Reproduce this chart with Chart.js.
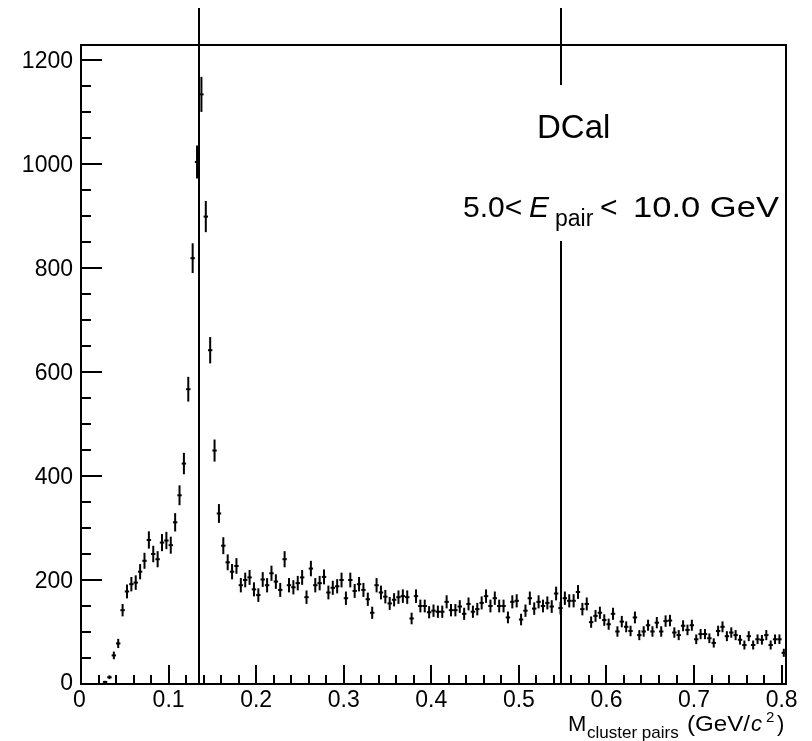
<!DOCTYPE html>
<html><head><meta charset="utf-8">
<script src="https://cdn.jsdelivr.net/npm/chart.js@4/dist/chart.umd.min.js"></script>
<style>html,body{margin:0;padding:0;background:#fff;}canvas{display:block;}</style>
</head><body>
<canvas id="c" width="812" height="741"></canvas>
<script>
// Bin centres (GeV/c^2) of the non-empty bins, bin width 0.005
const massBinCenters = [
  0.0275,0.0325,0.0375,0.0425,0.0475,0.0525,0.0575,0.0625,0.0675,0.0725,
  0.0775,0.0825,0.0875,0.0925,0.0975,0.1025,0.1075,0.1125,0.1175,0.1225,
  0.1275,0.1325,0.1375,0.1425,0.1475,0.1525,0.1575,0.1625,0.1675,0.1725,
  0.1775,0.1825,0.1875,0.1925,0.1975,0.2025,0.2075,0.2125,0.2175,0.2225,
  0.2275,0.2325,0.2375,0.2425,0.2475,0.2525,0.2575,0.2625,0.2675,0.2725,
  0.2775,0.2825,0.2875,0.2925,0.2975,0.3025,0.3075,0.3125,0.3175,0.3225,
  0.3275,0.3325,0.3375,0.3425,0.3475,0.3525,0.3575,0.3625,0.3675,0.3725,
  0.3775,0.3825,0.3875,0.3925,0.3975,0.4025,0.4075,0.4125,0.4175,0.4225,
  0.4275,0.4325,0.4375,0.4425,0.4475,0.4525,0.4575,0.4625,0.4675,0.4725,
  0.4775,0.4825,0.4875,0.4925,0.4975,0.5025,0.5075,0.5125,0.5175,0.5225,
  0.5275,0.5325,0.5375,0.5425,0.5475,0.5525,0.5575,0.5625,0.5675,0.5725,
  0.5775,0.5825,0.5875,0.5925,0.5975,0.6025,0.6075,0.6125,0.6175,0.6225,
  0.6275,0.6325,0.6375,0.6425,0.6475,0.6525,0.6575,0.6625,0.6675,0.6725,
  0.6775,0.6825,0.6875,0.6925,0.6975,0.7025,0.7075,0.7125,0.7175,0.7225,
  0.7275,0.7325,0.7375,0.7425,0.7475,0.7525,0.7575,0.7625,0.7675,0.7725,
  0.7775,0.7825,0.7875,0.7925,0.7975,0.8025
];
// Entries per bin
const pairCounts = [
  4,13,55,78,142,178,192,195,216,237,
  277,250,240,272,276,267,311,363,424,567,
  819,1004,1134,899,642,449,328,266,234,216,
  227,190,200,205,182,171,201,190,213,197,
  181,240,190,186,194,205,167,222,190,194,
  206,176,185,188,200,165,200,179,192,181,
  163,137,190,176,168,155,162,167,169,167,
  126,169,150,150,138,141,139,139,158,142,
  142,149,135,154,139,144,156,169,150,165,
  150,150,128,158,160,124,141,165,145,158,
  150,156,149,174,146,165,160,160,177,144,
  154,119,131,137,123,115,135,101,120,110,
  102,128,94,101,113,101,118,101,121,122,
  99,94,112,104,113,86,96,96,88,79,
  102,110,92,99,94,85,75,92,75,86,
  85,94,75,86,86,60
];
const yTickValues = [0,200,400,600,800,1000,1200];
const yTickLabels = ["0","200","400","600","800","1000","1200"];
const xTickValues = [0,0.1,0.2,0.3,0.4,0.5,0.6,0.7,0.8];
const xTickLabels = ["0","0.1","0.2","0.3","0.4","0.5","0.6","0.7","0.8"];
const massLines = [0.135, 0.548];
const detectorLabel = "DCal";

const FONT = "'Liberation Sans', Arial, Helvetica, sans-serif";

function txt(ctx, s, x, y, size, italic, align) {
  ctx.font = (italic ? 'italic ' : '') + size + 'px ' + FONT;
  ctx.textAlign = align || 'left';
  ctx.textBaseline = 'alphabetic';
  ctx.fillText(s, x, y);
  return ctx.measureText(s).width;
}
function txtW(ctx, s, x, y, size, width) {
  ctx.font = size + 'px ' + FONT;
  ctx.textAlign = 'left';
  ctx.textBaseline = 'alphabetic';
  const w = ctx.measureText(s).width;
  ctx.save();
  ctx.translate(x, y);
  ctx.scale(width / w, 1);
  ctx.fillText(s, 0, 0);
  ctx.restore();
}

const rootStyle = {
  id: 'rootStyle',
  afterDatasetsDraw(chart) {
    const {ctx, scales: {x, y}, chartArea: a} = chart;
    ctx.save();
    ctx.beginPath();
    ctx.rect(a.left - 3, a.top, a.right - a.left + 6, a.bottom - a.top);
    ctx.clip();
    ctx.strokeStyle = '#000';
    ctx.lineWidth = 2;
    massBinCenters.forEach((m, i) => {
      const n = pairCounts[i];
      const e = Math.sqrt(n);
      const px = x.getPixelForValue(m);
      ctx.beginPath();
      ctx.moveTo(px, y.getPixelForValue(Math.max(0, n - e)));
      ctx.lineTo(px, y.getPixelForValue(n + e));
      ctx.stroke();
    });
    ctx.restore();
  },
  afterDraw(chart) {
    const {ctx, scales: {x, y}, chartArea: a} = chart;
    ctx.save();
    ctx.strokeStyle = '#000';
    ctx.fillStyle = '#000';
    ctx.lineWidth = 2;
    // mass marker lines
    massLines.forEach(m => {
      const px = Math.round(x.getPixelForValue(m));
      ctx.beginPath();
      ctx.moveTo(px, 8);
      ctx.lineTo(px, y.getPixelForValue(0));
      ctx.stroke();
    });
    // white text box
    ctx.fillStyle = '#fff';
    ctx.fillRect(448, 85, a.right - 449, 156);
    ctx.fillStyle = '#000';
    txt(ctx, detectorLabel, 537, 138, 33);
    txt(ctx, '5.0<', 463, 217, 30);
    txt(ctx, 'E', 529, 217, 30, true);
    txt(ctx, 'pair', 555, 226, 23);
    txt(ctx, '<', 600, 217, 30);
    txtW(ctx, '10.0 GeV', 633, 217, 30, 146);

    // frame
    ctx.lineWidth = 2;
    ctx.strokeRect(a.left, a.top, a.right - a.left, a.bottom - a.top);
    // ticks
    ctx.beginPath();
    for (let v = 0; v <= y.max; v += 50) {
      const py = Math.round(y.getPixelForValue(v));
      const major = v % 200 === 0;
      ctx.moveTo(a.left, py);
      ctx.lineTo(a.left + (major ? 21 : 10), py);
    }
    for (let k = 0; k <= 40; k++) {
      const v = k * 0.02;
      if (v > x.max) break;
      const px = Math.round(x.getPixelForValue(v));
      const major = k % 5 === 0;
      ctx.moveTo(px, a.bottom);
      ctx.lineTo(px, a.bottom - (major ? 19 : 9));
    }
    ctx.stroke();
    // labels
    yTickValues.forEach((v, i) => {
      const py = y.getPixelForValue(v);
      txt(ctx, yTickLabels[i], 73, py + 8 - (v === 0 ? 2 : 0), 23, false, 'right');
    });
    xTickValues.forEach((v, i) => {
      const px = x.getPixelForValue(v);
      txt(ctx, xTickLabels[i], px - (v === 0 ? 1.5 : 0), 707, 23, false, 'center');
    });
    // x title
    txt(ctx, 'M', 568, 731, 22);
    txt(ctx, 'cluster pairs', 587, 738, 17);
    txtW(ctx, '(GeV/', 687, 731, 22, 63);
    txt(ctx, 'c', 751, 731, 22, true);
    txt(ctx, '2', 766, 722, 15);
    txt(ctx, ')', 777, 731, 22);
    ctx.restore();
  }
};

new Chart(document.getElementById('c'), {
  type: 'scatter',
  data: {
    datasets: [{
      data: massBinCenters.map((m, i) => ({x: m, y: pairCounts[i]})),
      pointStyle: 'line',
      pointRadius: 2.2,
      pointHoverRadius: 2.2,
      borderColor: '#000',
      backgroundColor: '#000',
      borderWidth: 2,
      showLine: false
    }]
  },
  options: {
    responsive: false,
    animation: false,
    devicePixelRatio: 1,
    layout: {padding: {left: 81, top: 45, right: 26, bottom: 57}},
    plugins: {legend: {display: false}, tooltip: {enabled: false}},
    scales: {
      x: {type: 'linear', min: 0, max: 0.805, display: false},
      y: {type: 'linear', min: 0, max: 1229, display: false}
    }
  },
  plugins: [rootStyle]
});
</script>
</body></html>
